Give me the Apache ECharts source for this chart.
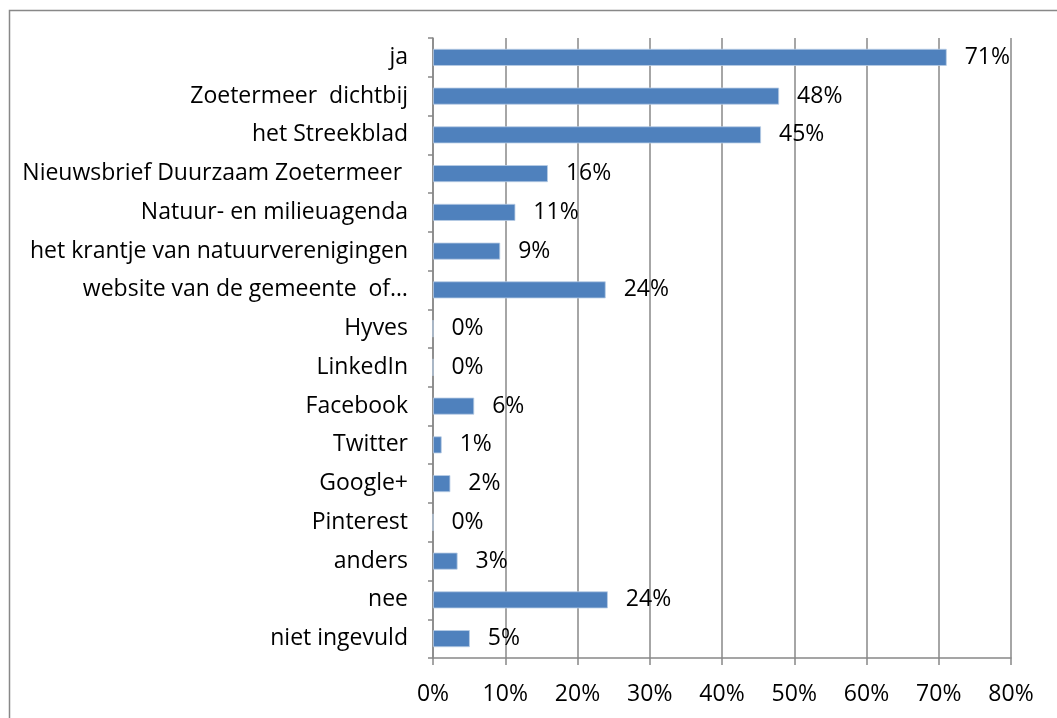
<!DOCTYPE html>
<html>
<head>
<meta charset="utf-8">
<script src="https://cdn.jsdelivr.net/npm/echarts@6/dist/echarts.min.js"></script>
<style>
	html, body { margin: 0; padding: 0; background: #fff; }
	#chart { width: 1057px; height: 718px; }
</style>
</head>
<body>
<div id="chart"></div>
<script>
// categories top to bottom
const categories = [
	'ja',
	'Zoetermeer  dichtbij',
	'het Streekblad',
	'Nieuwsbrief Duurzaam Zoetermeer ',
	'Natuur- en milieuagenda',
	'het krantje van natuurverenigingen',
	'website van de gemeente  of…',
	'Hyves',
	'LinkedIn',
	'Facebook',
	'Twitter',
	'Google+',
	'Pinterest',
	'anders',
	'nee',
	'niet ingevuld',
]
// percentages
const values = [71.1, 47.9, 45.4, 15.9, 11.4, 9.3, 23.9, 0, 0, 5.7, 1.2, 2.4, 0, 3.4, 24.2, 5.1]
const xTicks = [0, 10, 20, 30, 40, 50, 60, 70, 80]

const font = 'Open Sans'
const chart = echarts.init(document.getElementById('chart'), null, { renderer: 'canvas' })

chart.setOption({
	animation: false,
	textStyle: { fontFamily: font },
	graphic: [
		{
			type: 'rect',
			shape: { x: 9.5, y: 10.5, width: 1200, height: 900 },
			style: { fill: 'none', stroke: '#888', lineWidth: 1.5 },
			silent: true,
		},
	],
	grid: { left: 433, right: 46, top: 38, bottom: 60 },
	xAxis: {
		type: 'value',
		min: xTicks[0],
		max: xTicks[xTicks.length - 1],
		interval: 10,
		axisLine: { show: true, lineStyle: { color: '#888', width: 1.5 } },
		axisTick: { show: true, length: 7, lineStyle: { color: '#888', width: 1.5 } },
		splitLine: { show: true, lineStyle: { color: '#888', width: 1.5 } },
		axisLabel: {
			margin: 25,
			fontSize: 23,
			color: '#000',
			fontFamily: font,
			formatter: (v) => v + '%',
		},
	},
	yAxis: {
		type: 'category',
		inverse: true,
		data: categories,
		axisLine: { show: true, lineStyle: { color: '#888', width: 1.5 } },
		axisTick: { show: true, length: 5, lineStyle: { color: '#888', width: 1.5 } },
		axisLabel: {
			margin: 25,
			fontSize: 23,
			color: '#000',
			fontFamily: font,
		},
	},
	series: [
		{
			type: 'bar',
			data: values,
			barWidth: 17,
			itemStyle: { color: '#4F81BD', borderColor: '#B9CDE5', borderWidth: 0.8 },
			label: {
				show: true,
				position: 'right',
				distance: 18,
				fontSize: 23,
				color: '#000',
				fontFamily: font,
				formatter: (p) => Math.round(p.value) + '%',
			},
		},
	],
})
</script>
</body>
</html>
